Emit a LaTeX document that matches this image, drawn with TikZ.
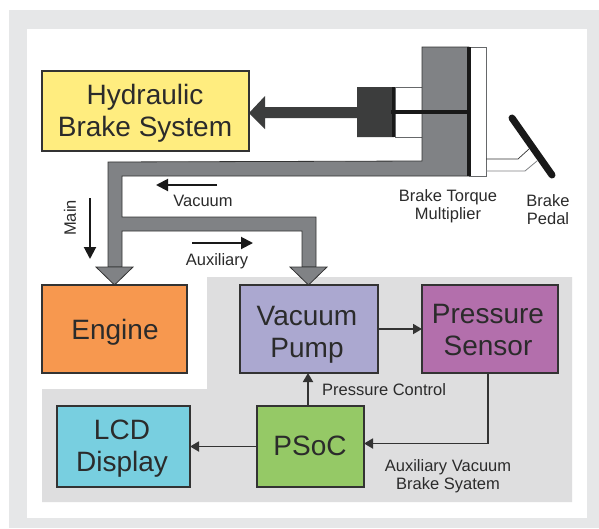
\documentclass[tikz,border=0pt]{standalone}
\usepackage{fontspec}
\setmainfont{Liberation Sans}
\usetikzlibrary{arrows.meta}
\definecolor{txt}{HTML}{2B2B2B}
\definecolor{edge}{HTML}{333333}
\definecolor{pipe}{HTML}{808285}
\definecolor{piston}{HTML}{3C3D3D}
\definecolor{frameg}{HTML}{E6E7E8}
\definecolor{zone}{HTML}{DEDEDF}
\definecolor{cyel}{HTML}{FFED7F}
\definecolor{cora}{HTML}{F7984F}
\definecolor{clil}{HTML}{ABA8D0}
\definecolor{cmag}{HTML}{B36FAC}
\definecolor{cgrn}{HTML}{95C966}
\definecolor{ccya}{HTML}{78CFE0}
\tikzset{
  blockbox/.style={draw=edge,line width=1.8pt,outer sep=0pt,inner sep=0pt},
  bigtext/.style={inner sep=0pt,align=center,text=txt,font=\fontsize{28}{32}\selectfont},
  smalltext/.style={text=txt,inner sep=0pt,align=center,font=\fontsize{16.5}{18}\selectfont},
  wire/.style={draw=edge,line width=1.8pt,-{Triangle[length=9pt,width=10pt]}},
  flow/.style={draw=black!90,line width=2pt,-{Triangle[length=12pt,width=12pt]}},
  pipeline/.style={fill=pipe,draw=edge,line width=0.8pt,line join=miter},
  tube/.style={fill=white,draw=pipe!80!black,line width=0.8pt}
}
\begin{document}
\begin{tikzpicture}[x=1pt,y=-1pt]
\useasboundingbox (0,0) rectangle (599,528);
% frame
\fill[white] (0,0) rectangle (599,528);
\fill[frameg] (9,10) rectangle (599,528);
\fill[white] (27,29) rectangle (587,518);
\fill[zone] (207,277) -- (572,277) -- (572,502) -- (42,502) -- (42,389) -- (207,389) -- cycle;
% tubes
\draw[tube] (395,87) rectangle (422,137);
\draw[tube] (469,47) rectangle (486,176);
% pedal linkage
\draw[edge,line width=0.7pt] (486,159) -- (518,159) -- (529,149);
\draw[pipe,line width=0.8pt] (486,171) -- (525,171) -- (537,161);
% pipes
\draw[pipeline] (469,47) -- (422,47) -- (422,161) -- (108,162) -- (108,267) -- (122,267) -- (122,231)
  -- (302,231) -- (302,267) -- (316,267) -- (316,217) -- (122,217) -- (122,176) -- (469,176) -- cycle;
\draw[pipeline] (96,267) -- (133,267) -- (114.5,285) -- cycle;
\draw[pipeline] (290,267) -- (327,267) -- (308.5,285) -- cycle;
% piston and push arrow
\fill[piston] (249,113) -- (265,96) -- (265,107) -- (357,107) -- (357,87) -- (394,87) -- (394,137) -- (357,137) -- (357,118) -- (265,118) -- (265,129) -- cycle;
\draw[black!90,line width=3pt] (393.5,87) -- (393.5,137);
\draw[black!90,line width=3.5pt] (391,112) -- (469,112);
\draw[black!90,line width=4.5pt] (469,47) -- (469,176);
\draw[black!90,line width=7pt,line cap=round] (512,118) -- (552,175);
% boxes
\node[blockbox,fill=cyel,minimum width=207pt,minimum height=80pt] (hyd) at (145.5,111) {};
\node[blockbox,fill=cora,minimum width=145pt,minimum height=88pt] (eng) at (114.5,329) {};
\node[blockbox,fill=clil,minimum width=138pt,minimum height=88pt] (pump) at (309,329) {};
\node[blockbox,fill=cmag,minimum width=136pt,minimum height=88pt] (sens) at (490,329) {};
\node[blockbox,fill=cgrn,minimum width=107pt,minimum height=81pt] (psoc) at (310.5,446.5) {};
\node[blockbox,fill=ccya,minimum width=133pt,minimum height=81pt] (lcd) at (123.5,446.5) {};
\node[bigtext] (thyd) at (145,113.5) {Hydraulic\\Brake System};
\node[bigtext] (teng) at (115,332) {Engine};
\node[bigtext] (tpump) at (307,334.5) {Vacuum\\Pump};
\node[bigtext] (tsens) at (488,329.5) {Pressure\\Sensor};
\node[bigtext] (tpsoc) at (310,446) {PSoC};
\node[bigtext] (tlcd) at (122,448.5) {LCD\\Display};
% connectors
\draw[wire] (pump.east) -- (sens.west);
\draw[wire] ([xshift=-2.5pt]psoc.north) -- ([xshift=-2.5pt]psoc.north |- pump.south);
\draw[wire] (psoc.west) -- (lcd.east);
\draw[wire] ([xshift=-2pt]sens.south) |- ([yshift=3pt]psoc.east);
% flow arrows
\coordinate (vacA) at (217,185); \coordinate (vacB) at (156,185);
\coordinate (mainA) at (90,198); \coordinate (mainB) at (90,259);
\coordinate (auxA) at (192,243); \coordinate (auxB) at (253,243);
\draw[flow] (vacA) -- (vacB);
\draw[flow] (mainA) -- (mainB);
\draw[flow] (auxA) -- (auxB);
% labels
\node[smalltext] (lbt) at (448,206.5) {Brake Torque\\Multiplier};
\node[smalltext] (lbp) at (548,210) {Brake\\Pedal};
\node[smalltext] (lvac) at (203,201) {Vacuum};
\node[smalltext,rotate=90] (lmain) at (70,218) {Main};
\node[smalltext] (laux) at (217,261.5) {Auxiliary};
\node[smalltext,anchor=west] (lpc) at (322,390) {Pressure Control};
\node[smalltext] (labs) at (448,476) {Auxiliary Vacuum\\Brake Syatem};
\end{tikzpicture}
\end{document}
